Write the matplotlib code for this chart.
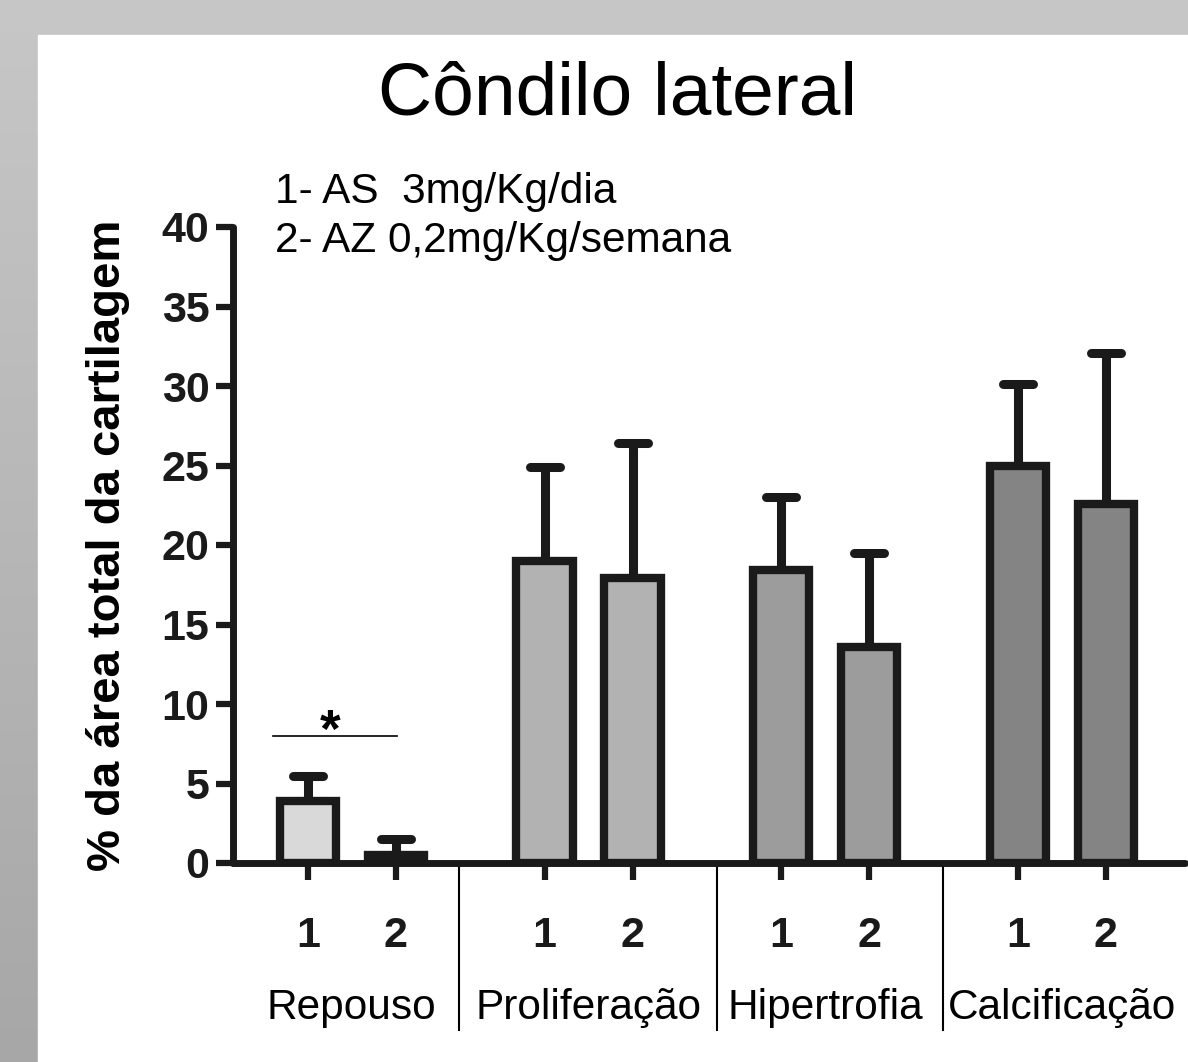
import numpy as np
import matplotlib.pyplot as plt
from matplotlib.patches import Rectangle
from matplotlib.markers import MarkerStyle

plt.rcParams['font.family'] = ['Liberation Sans', 'DejaVu Sans']

# data
groups = ['Repouso', 'Proliferação', 'Hipertrofia', 'Calcificação']
tick_labels = ['1', '2']
means = [[3.9, 0.5], [19.0, 17.9], [18.4, 13.6], [25.0, 22.6]]
sems = [[1.6, 1.0], [5.9, 8.5], [4.6, 5.9], [5.1, 9.5]]
colors = ['#d9d9d9', '#b2b2b2', '#9b9c9b', '#838483']
legend_lines = ['1- AS  3mg/Kg/dia', '2- AZ 0,2mg/Kg/semana']

W, H = 1188, 1062
fig = plt.figure(figsize=(W / 100, H / 100), dpi=100)

# gray slide background (light at top, darker at bottom) + white panel
bg = fig.add_axes([0, 0, 1, 1])
shade = np.linspace(0.78, 0.655, 256).reshape(-1, 1, 1) * np.ones((1, 1, 3))
bg.imshow(shade, aspect='auto', extent=[0, W, H, 0])
bg.add_patch(Rectangle((38, 35), W - 38, H - 35, color='white'))
bg.set_xlim(0, W)
bg.set_ylim(H, 0)
bg.axis('off')

# main axes
left, right = 233 / W, 1185 / W
bottom, top = 1 - 863 / H, 1 - 227 / H
ax = fig.add_axes([left, bottom, right - left, top - bottom])
ax.patch.set_alpha(0)

dark = '#1a1a1a'
gap = 2.69
offset = 0.85
width = 0.64
xs_all = []
for g in range(len(groups)):
    xs = [g * gap + offset + m for m in range(2)]
    xs_all += xs
    ax.bar(xs, means[g], width=width, color=colors[g], edgecolor=dark,
           linewidth=6, zorder=3)
    eb = ax.errorbar(xs, means[g], yerr=[[0, 0], sems[g]], fmt='none',
                     ecolor=dark, elinewidth=6.5, capsize=11, capthick=6.5,
                     zorder=2)
    for cap in eb[1]:
        cap.set_marker(MarkerStyle('_', capstyle='round'))

ax.set_xlim(0, 952 / 88)
ax.set_ylim(0, 40)
ax.set_yticks(np.arange(0, 41, 5))
ax.set_xticks(xs_all)
ax.set_xticklabels([tick_labels[i % 2] for i in range(len(xs_all))])
for s in ['top', 'right']:
    ax.spines[s].set_visible(False)
for s in ['left', 'bottom']:
    ax.spines[s].set_linewidth(5)
    ax.spines[s].set_color(dark)
    ax.spines[s].set_capstyle('round')
ax.tick_params(axis='both', length=12, width=4.5, color=dark)
ax.tick_params(axis='y', labelsize=31, pad=5)
ax.tick_params(axis='x', labelsize=31, pad=26)
for lab in ax.get_xticklabels() + ax.get_yticklabels():
    lab.set_fontweight('bold')
    lab.set_color(dark)
ax.set_ylabel('% da área total da cartilagem', fontsize=34, fontweight='bold')
ax.yaxis.set_label_coords(-0.108, 0.5)

# group labels and separators
for g, name in enumerate(groups):
    cx = g * gap + offset + 0.5
    ax.text(cx, -9.1, name, ha='center', va='center', fontsize=30.5,
            clip_on=False)
for sx in [226 / 88, 484 / 88, 710 / 88]:
    ax.plot([sx, sx], [-0.1, -10.5], color='black', lw=1.5, clip_on=False)

# significance marker
ax.plot([40 / 88, 164 / 88], [8.0, 8.0], color='black', lw=1.2)
ax.text(97 / 88, 8.2, '*', ha='center', va='center', fontsize=38,
        fontweight='bold')

# treatment legend text
ax.text(42 / 88, 42.2, legend_lines[0], ha='left', va='center', fontsize=30.5,
        clip_on=False)
ax.text(42 / 88, 39.1, legend_lines[1], ha='left', va='center', fontsize=30.5,
        clip_on=False)

fig.text(618 / W, 1 - 95 / H, 'Côndilo lateral', ha='center', va='center',
         fontsize=54)

fig.savefig('out.png', dpi=100)
